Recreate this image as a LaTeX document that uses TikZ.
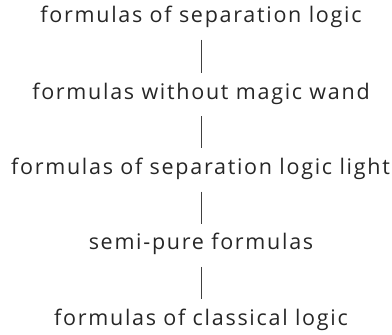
\documentclass[tikz,border=0pt]{standalone}
\usepackage{fontspec}
\setmainfont{Open Sans}[LetterSpace=8]
\begin{document}
\begin{tikzpicture}[x=1pt,y=-1pt,
  lbl/.style={inner sep=0pt,anchor=base,font=\fontsize{21.5}{25}\selectfont,text=black!85},
  conn/.style={draw=black!75,line width=0.8pt}]
\useasboundingbox (0,0) rectangle (392,335);
\node[lbl] (a) at (201,22.7) {formulas of separation logic};
\node[lbl] (b) at (201,99) {formulas without magic wand};
\node[lbl] (c) at (200.5,174.5) {formulas of separation logic light};
\node[lbl] (d) at (201,249.8) {semi-pure formulas};
\node[lbl] (e) at (201,325.2) {formulas of classical logic};
\coordinate (cx) at (c.base -| b.base);
\draw[conn] ([yshift=-17pt]a.base) -- ([yshift=26.3pt]b.base);
\draw[conn] ([yshift=-17pt]b.base) -- ([yshift=26.3pt]cx);
\draw[conn] ([yshift=-17pt]cx) -- ([yshift=26.3pt]d.base);
\draw[conn] ([yshift=-17pt]d.base) -- ([yshift=26.3pt]e.base);
\end{tikzpicture}
\end{document}
